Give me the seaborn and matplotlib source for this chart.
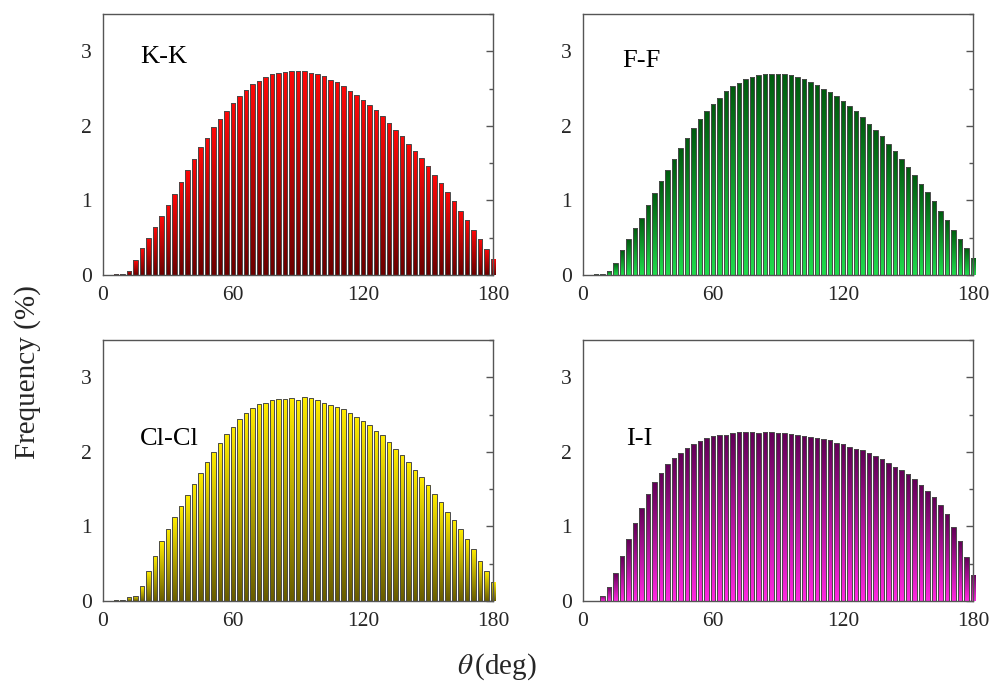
import numpy as np
import pandas as pd
import matplotlib
matplotlib.use("Agg")
import matplotlib.pyplot as plt
from matplotlib.colors import LinearSegmentedColormap
from matplotlib.ticker import MultipleLocator
import seaborn as sns

sns.set_theme(style="white")
plt.rcParams['font.family'] = ['Liberation Serif', 'DejaVu Serif']
plt.rcParams['mathtext.fontset'] = 'stix'

# bin centres (deg)
theta = list(range(0, 181, 3))

kk = [0, 0, 0.01, 0.02, 0.06, 0.20, 0.36, 0.50, 0.65, 0.79, 0.94, 1.09, 1.25, 1.41, 1.56,
      1.71, 1.84, 1.98, 2.09, 2.20, 2.31, 2.40, 2.48, 2.56, 2.60, 2.65, 2.69, 2.71, 2.72,
      2.73, 2.73, 2.73, 2.71, 2.70, 2.67, 2.62, 2.59, 2.53, 2.47, 2.42, 2.35, 2.28, 2.21,
      2.13, 2.04, 1.95, 1.87, 1.76, 1.66, 1.57, 1.46, 1.34, 1.24, 1.11, 0.99, 0.86, 0.74,
      0.61, 0.48, 0.35, 0.21]

ff = [0, 0, 0.01, 0.02, 0.05, 0.16, 0.33, 0.48, 0.63, 0.77, 0.94, 1.10, 1.26, 1.41, 1.55,
      1.70, 1.84, 1.97, 2.09, 2.20, 2.29, 2.38, 2.47, 2.54, 2.58, 2.63, 2.66, 2.68, 2.69,
      2.70, 2.69, 2.69, 2.68, 2.66, 2.63, 2.59, 2.55, 2.50, 2.45, 2.40, 2.34, 2.27, 2.20,
      2.12, 2.03, 1.95, 1.86, 1.76, 1.66, 1.56, 1.45, 1.34, 1.22, 1.11, 0.99, 0.86, 0.74,
      0.61, 0.48, 0.36, 0.23]

clcl = [0, 0, 0.01, 0.02, 0.05, 0.07, 0.20, 0.40, 0.61, 0.80, 0.97, 1.12, 1.28, 1.42, 1.57,
        1.72, 1.86, 2.00, 2.12, 2.24, 2.33, 2.44, 2.52, 2.59, 2.64, 2.66, 2.69, 2.71, 2.71,
        2.72, 2.70, 2.74, 2.72, 2.70, 2.66, 2.63, 2.60, 2.57, 2.52, 2.47, 2.42, 2.36, 2.28,
        2.22, 2.13, 2.04, 1.96, 1.86, 1.76, 1.66, 1.55, 1.44, 1.33, 1.20, 1.08, 0.96, 0.83,
        0.70, 0.54, 0.40, 0.25]

ii = [0, 0, 0, 0.07, 0.19, 0.37, 0.60, 0.83, 1.04, 1.25, 1.44, 1.60, 1.72, 1.84, 1.92,
      1.98, 2.05, 2.11, 2.15, 2.18, 2.21, 2.22, 2.23, 2.25, 2.26, 2.26, 2.26, 2.25, 2.26,
      2.26, 2.25, 2.25, 2.24, 2.23, 2.21, 2.20, 2.19, 2.17, 2.16, 2.12, 2.10, 2.06, 2.04,
      2.02, 1.98, 1.94, 1.90, 1.85, 1.80, 1.76, 1.70, 1.63, 1.56, 1.48, 1.39, 1.29, 1.16,
      0.99, 0.80, 0.59, 0.35]

panels = [
    ("K-K", kk, ["#6a0000", "#ff0808"]),     # bottom colour, top colour
    ("F-F", ff, ["#1fdc4c", "#005a0e"]),
    ("Cl-Cl", clcl, ["#685c00", "#ffec00"]),
    ("I-I", ii, ["#ff28e0", "#620056"]),
]

fig = plt.figure(figsize=(9.93, 6.82), dpi=100)
W, H = 993, 682
boxes = [(103, 14), (583, 14), (103, 340), (583, 340)]
aw, ah = 390, 261

label_pos = [(0.095, 0.835), (0.10, 0.82), (0.095, 0.62), (0.11, 0.62)]

for (name, vals, cols), (x0, y0), lp in zip(panels, boxes, label_pos):
    ax = fig.add_axes([x0 / W, 1 - (y0 + ah) / H, aw / W, ah / H])
    df = pd.DataFrame({"theta": theta, "freq": vals})
    sns.barplot(data=df, x="theta", y="freq", native_scale=True, width=0.76,
                color="white", edgecolor="#4a4a4a", linewidth=0.7, ax=ax, zorder=3)
    cmap = LinearSegmentedColormap.from_list(name, cols)
    grad = np.linspace(0, 1, 64).reshape(-1, 1)
    for p in ax.patches:
        bx, by = p.get_x(), p.get_y()
        bw, bh = p.get_width(), p.get_height()
        if bh <= 0:
            continue
        im = ax.imshow(grad, cmap=cmap, origin="lower", aspect="auto",
                       extent=[bx, bx + bw, by, by + bh], zorder=2,
                       interpolation="bilinear")
        im.set_clip_path(p)
        p.set_facecolor("none")
    ax.set_xlim(0, 180)
    ax.set_ylim(0, 3.5)
    ax.set_xticks([0, 60, 120, 180])
    ax.set_xticklabels(["0", "60", "120", "180"])
    ax.set_yticks([0, 1, 2, 3])
    ax.set_yticklabels(["0", "1", "2", "3"])
    ax.xaxis.set_minor_locator(MultipleLocator(30))
    ax.yaxis.set_minor_locator(MultipleLocator(0.5))
    ax.set_xlabel("")
    ax.set_ylabel("")
    for s in ax.spines.values():
        s.set_visible(True)
        s.set_color("#555555")
        s.set_linewidth(1.0)
    ax.tick_params(axis="both", which="major", labelsize=15.5, length=5, width=1,
                   color="#555555", direction="out", pad=3)
    ax.tick_params(axis="both", which="minor", length=3, width=1, color="#555555",
                   direction="out")
    ax.tick_params(right=True, top=False, which="both")
    for t in ax.yaxis.get_ticklines(minor=False)[1::2] + ax.yaxis.get_ticklines(minor=True)[1::2]:
        t.set_marker(0)
    ax.text(lp[0], lp[1], name, transform=ax.transAxes, fontsize=19,
            ha="left", va="center", color="black")

fig.text(0.028, 0.455, "Frequency (%)", rotation=90, fontsize=21,
         ha="center", va="center")
fig.text(0.5, 0.022, r"$\theta\,$(deg)", fontsize=21, ha="center", va="center")

fig.savefig("out.png", dpi=100)
